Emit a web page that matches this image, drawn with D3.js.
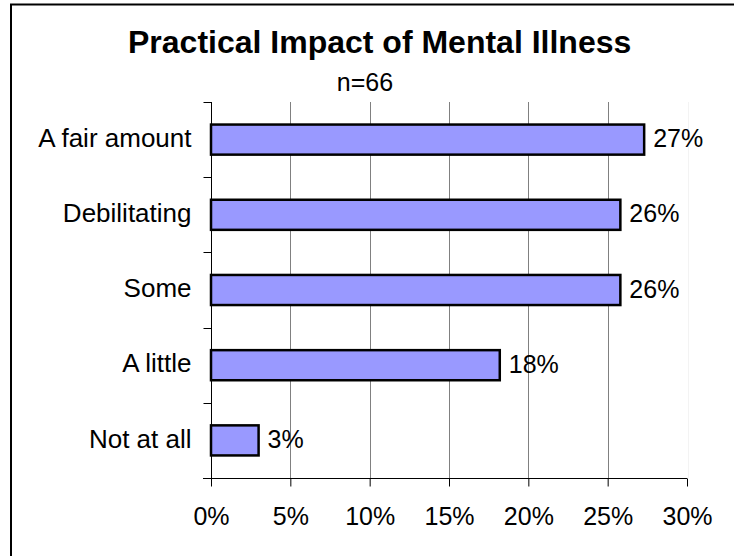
<!DOCTYPE html>
<html>
<head>
<meta charset="utf-8">
<script src="https://cdn.jsdelivr.net/npm/d3@7"></script>
<style>
  html, body { margin: 0; padding: 0; background: #fff; }
  svg { display: block; font-family: "Liberation Sans", Arial, sans-serif; }
</style>
</head>
<body>
<svg id="chart" width="734" height="556"></svg>
<script>
const categories = ["A fair amount", "Debilitating", "Some", "A little", "Not at all"];
const values = [27.3, 25.8, 25.8, 18.2, 3.0];
const valueLabels = ["27%", "26%", "26%", "18%", "3%"];
const xTicks = [0, 5, 10, 15, 20, 25, 30];
const title = "Practical Impact of Mental Illness";
const subtitle = "n=66";

const svg = d3.select("#chart");

// outer frame (right/bottom edges fall outside the picture)
svg.append("rect")
  .attr("x", 11).attr("y", 4.5)
  .attr("width", 760).attr("height", 580)
  .attr("fill", "none").attr("stroke", "#000").attr("stroke-width", 2);

const x = d3.scaleLinear().domain([0, 30]).range([211, 687]);
const y = d3.scaleBand().domain(categories).range([102, 478])
  .paddingInner(0.6).paddingOuter(0.3);

// title
svg.append("text")
  .attr("x", 128).attr("y", 53)
  .attr("text-anchor", "start")
  .attr("font-size", 32).attr("font-weight", "bold")
  .text(title);
svg.append("text")
  .attr("x", 365).attr("y", 91)
  .attr("text-anchor", "middle")
  .attr("font-size", 25)
  .text(subtitle);

// gridlines
svg.append("g").selectAll("line")
  .data(xTicks.filter(d => d > 0 && d < 30))
  .join("line")
  .attr("x1", d => Math.round(x(d)) + 0.5).attr("x2", d => Math.round(x(d)) + 0.5)
  .attr("y1", 102).attr("y2", 478)
  .attr("stroke", "#808080").attr("stroke-width", 1);
svg.append("line")
  .attr("x1", Math.round(x(30)) + 1.5).attr("x2", Math.round(x(30)) + 1.5)
  .attr("y1", 102).attr("y2", 478)
  .attr("stroke", "#f3f3f3").attr("stroke-width", 1);

// bars
svg.append("g").selectAll("rect")
  .data(categories)
  .join("rect")
  .attr("x", x(0))
  .attr("y", d => y(d))
  .attr("width", (d, i) => x(values[i]) - x(0))
  .attr("height", y.bandwidth())
  .attr("fill", "#9999FF")
  .attr("stroke", "#000").attr("stroke-width", 2.5);

// value labels
svg.append("g").selectAll("text")
  .data(categories)
  .join("text")
  .attr("x", (d, i) => x(values[i]) + 9)
  .attr("y", d => y(d) + y.bandwidth() / 2)
  .attr("dy", "0.3em")
  .attr("font-size", 25)
  .text((d, i) => valueLabels[i]);

// x axis
const xAxis = svg.append("g")
  .attr("transform", "translate(0,478.5)")
  .call(d3.axisBottom(x).tickValues(xTicks).tickFormat(d => d + "%").tickSize(8).tickPadding(21));
xAxis.select(".domain").attr("d", "M203,0H" + x(30)).attr("stroke", "#000");
xAxis.selectAll(".tick line").attr("stroke", "#000");
xAxis.selectAll("text").attr("font-size", 25).attr("fill", "#000")
  .attr("font-family", "'Liberation Sans', Arial, sans-serif");

// y axis
const yAxis = svg.append("g")
  .attr("transform", "translate(211.5,0)")
  .call(d3.axisLeft(y).tickSize(0).tickPadding(20));
yAxis.select(".domain").attr("d", "M0,102V478").attr("stroke", "#000");
yAxis.selectAll("text").attr("font-size", 26).attr("fill", "#000").attr("dy", "0.28em")
  .attr("font-family", "'Liberation Sans', Arial, sans-serif");

// category boundary ticks on y axis
const bounds = categories.map(c => y(c) - y.step() * y.paddingInner() / 2);
bounds.push(478);
bounds[0] = 102;
yAxis.append("g").selectAll("line")
  .data(bounds)
  .join("line")
  .attr("x1", -8).attr("x2", 0)
  .attr("y1", d => Math.round(d) + 0.5).attr("y2", d => Math.round(d) + 0.5)
  .attr("stroke", "#000");
</script>
</body>
</html>
